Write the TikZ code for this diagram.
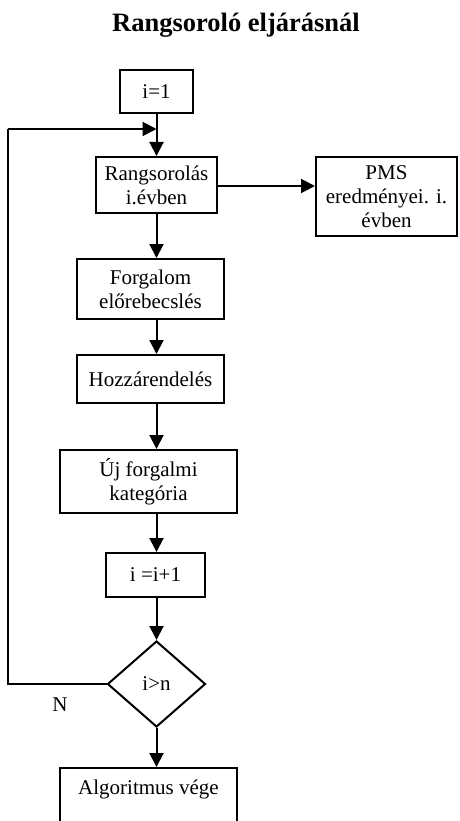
\documentclass[tikz,border=0pt]{standalone}
\usepackage{fontspec}
\setmainfont{Liberation Serif}
\usetikzlibrary{shapes.geometric,arrows.meta}
\begin{document}
\begin{tikzpicture}[x=1pt,y=-1pt,
  box/.style={draw,line width=2pt,rectangle,inner sep=0pt,align=center,font=\fontsize{21}{24}\selectfont},
  conn/.style={line width=2pt,-{Triangle[width=14pt,length=14pt]}},
  plain/.style={line width=2pt}]
\useasboundingbox (0,0) rectangle (459,821);
\node[font=\fontsize{26.5}{30}\selectfont\bfseries] (title) at (236,25) {Rangsoroló eljárásnál};
\node[box,minimum width=73pt,minimum height=43pt] (i1) at (156.5,91.5) {i=1};
\node[box,minimum width=121pt,minimum height=56pt] (rang) at (156.5,185) {Rangsorolás\\i.évben};
\node[box,minimum width=141pt,minimum height=79pt] (pms) at (386.5,196.5) {PMS\\eredményei. i.\\évben};
\node[box,minimum width=147pt,minimum height=60pt] (forg) at (150.5,289) {Forgalom\\előrebecslés};
\node[box,minimum width=147pt,minimum height=48pt] (hozz) at (150.5,379) {Hozzárendelés};
\node[box,minimum width=177pt,minimum height=63pt] (uj) at (148.5,481.5) {Új forgalmi\\kategória};
\node[box,minimum width=99pt,minimum height=44pt] (inc) at (155.5,575) {i =i+1};
\node[draw,line width=2pt,diamond,aspect=1.14,minimum width=98pt,minimum height=86pt,inner sep=0pt,font=\fontsize{21}{24}\selectfont] (dia) at (156.5,684) {i>n};
\node[box,anchor=north,minimum width=177pt,text height=22pt,text depth=50pt,inner ysep=4pt] (algo) at (148.5,767) {Algoritmus vége};
\node[font=\fontsize{21}{24}\selectfont] (nlab) at (60,705) {N};
\coordinate (loopA) at (8,684);
\coordinate (loopB) at (8,129);
\coordinate (loopC) at (156.5,129);
\draw[conn] (i1.south) -- (rang.north);
\draw[conn] (rang.east |- 0,186) -- (pms.west |- 0,186);
\draw[conn] (rang.south) -- (rang.south |- forg.north);
\draw[conn] (rang.south |- forg.south) -- (rang.south |- hozz.north);
\draw[conn] (rang.south |- hozz.south) -- (rang.south |- uj.north);
\draw[conn] (rang.south |- uj.south) -- (rang.south |- inc.north);
\draw[conn] (dia.north |- inc.south) -- (dia.north);
\draw[conn] (dia.south) -- (dia.south |- algo.north);
\draw[plain] (dia.west) -- (loopA) -- (loopB);
\draw[conn] (loopB) -- (loopC);
\end{tikzpicture}
\end{document}
